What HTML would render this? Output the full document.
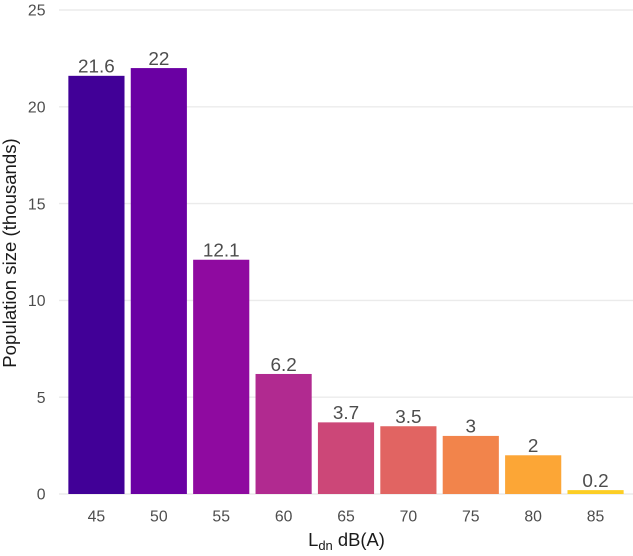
<!DOCTYPE html>
<html>
<head>
<meta charset="utf-8">
<style>
html,body{margin:0;padding:0;background:#fff;}
svg{display:block;font-family:"Liberation Sans",sans-serif;}
</style>
</head>
<body>
<svg id="chart" width="633" height="556" viewBox="0 0 633 556" xmlns="http://www.w3.org/2000/svg">
<text transform="translate(16 253) rotate(-90)" text-anchor="middle" font-size="18.6" fill="#1a1a1a">Population size (thousands)</text>
<text x="346.5" y="546" text-anchor="middle" font-size="18.4" fill="#1a1a1a">L<tspan font-size="13" dy="4">dn</tspan><tspan dy="-4"> dB(A)</tspan></text>
</svg>
<script>
const categories = ['45','50','55','60','65','70','75','80','85'];
const populationValues = [21.6,22,12.1,6.2,3.7,3.5,3,2,0.2];
const valueLabels = ['21.6','22','12.1','6.2','3.7','3.5','3','2','0.2'];
const barColors = ['#410097','#6a00a3','#8f0aa0','#b12a90','#cc4778','#e16462','#f2844b','#fca636','#fcce25'];
const yTicks = [0,5,10,15,20,25];

const svg = document.getElementById('chart');
const NS = 'http://www.w3.org/2000/svg';
const plotLeft = 59, plotRight = 633, y0 = 494, y25 = 10;
const yScale = v => y0 - (v / 25) * (y0 - y25);
const step = (plotRight - plotLeft) / (categories.length - 1 + 1.2);
const xScale = i => plotLeft + 0.6 * step + i * step;
const barWidth = step * 0.9;

yTicks.forEach(t => {
  const line = document.createElementNS(NS, 'line');
  
  
  line.setAttribute('x1', plotLeft);
  line.setAttribute('x2', plotRight);
  line.setAttribute('y1', yScale(t));
  line.setAttribute('y2', yScale(t));
  line.setAttribute('stroke', '#ebebeb');
  line.setAttribute('stroke-width', '1.4');
  svg.appendChild(line);
  const label = document.createElementNS(NS, 'text');
  
  
  label.setAttribute('x', 45.5);
  label.setAttribute('y', yScale(t) + 5.7);
  label.setAttribute('text-anchor', 'end');
  label.setAttribute('font-size', '15.8');
  label.setAttribute('fill', '#4d4d4d');
  label.textContent = t;
  svg.appendChild(label);
});

categories.forEach((c, i) => {
  const v = populationValues[i];
  const bar = document.createElementNS(NS, 'rect');
  
  
  bar.setAttribute('x', xScale(i) - barWidth / 2);
  bar.setAttribute('y', yScale(v));
  bar.setAttribute('width', barWidth);
  bar.setAttribute('height', y0 - yScale(v));
  bar.setAttribute('fill', barColors[i]);
  svg.appendChild(bar);
  const val = document.createElementNS(NS, 'text');
  
  
  val.setAttribute('x', xScale(i));
  val.setAttribute('y', yScale(v) - 3.2);
  val.setAttribute('text-anchor', 'middle');
  val.setAttribute('font-size', '18.9');
  val.setAttribute('fill', '#4d4d4d');
  val.textContent = valueLabels[i];
  svg.appendChild(val);
  const tick = document.createElementNS(NS, 'text');
  
  
  tick.setAttribute('x', xScale(i));
  tick.setAttribute('y', 521.5);
  tick.setAttribute('text-anchor', 'middle');
  tick.setAttribute('font-size', '15.8');
  tick.setAttribute('fill', '#4d4d4d');
  tick.textContent = c;
  svg.appendChild(tick);
});
</script>
</body>
</html>
